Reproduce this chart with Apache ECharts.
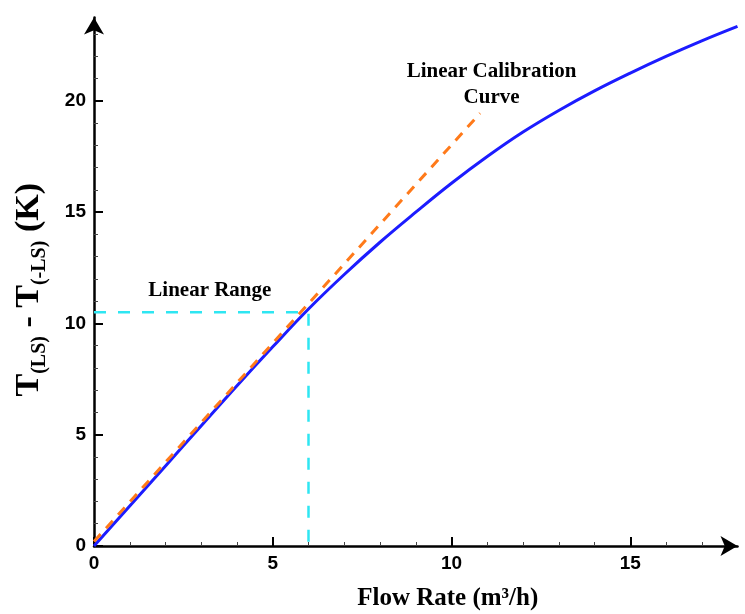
<!DOCTYPE html>
<html>
<head>
<meta charset="utf-8">
<script src="https://cdn.jsdelivr.net/npm/echarts@6/dist/echarts.min.js"></script>
<style>html,body{margin:0;padding:0;background:#fff;}#c{width:745px;height:614px;}</style>
</head>
<body>
<div id="c"></div>
<script>
// ---- data ----
const measuredX = [0, 1, 2, 3, 4, 5, 6, 7, 8, 9, 10, 11, 12, 13, 14, 15, 16, 17, 18];
const measuredY = [0, 1.8, 3.6, 5.4, 7.2, 8.95, 10.65, 12.2, 13.65, 15.0, 16.3, 17.5, 18.6, 19.57, 20.45, 21.25, 22.0, 22.7, 23.35];
const calibX = [0, 10.8];
const calibY = [0.2, 19.45];
const rangeX = [0, 6, 6];
const rangeY = [10.5, 10.5, 0];
const noteX = [3.24, 11.12];
const noteY = [11.46, 20.72];
const noteText = ['Linear Range', 'Linear Calibration\nCurve'];
const xMajor = [0, 5, 10, 15];
const yMajor = [0, 5, 10, 15, 20];
const xMinor = [1, 2, 3, 4, 6, 7, 8, 9, 11, 12, 13, 14, 16, 17];
const yMinor = [1, 2, 3, 4, 6, 7, 8, 9, 11, 12, 13, 14, 16, 17, 18, 19, 21, 22, 23];
const xMax = 18, yMax = 23.75;

const zip = (a, b) => a.map((v, i) => [v, b[i]]);
const serif = 'Liberation Serif';
const sans = 'Liberation Sans';

const chart = echarts.init(document.getElementById('c'), null, {renderer: 'canvas'});
const gridRect = {left: 94, right: 7.5, top: 17.5, bottom: 68, containLabel: false, outerBoundsMode: 'none'};
const tickLabel = {fontFamily: sans, fontWeight: 'bold', fontSize: 19, color: '#000', margin: 8};

chart.setOption({
  backgroundColor: '#fff',
  animation: false,
  grid: [Object.assign({}, gridRect), Object.assign({}, gridRect)],
  xAxis: [{
    gridIndex: 0, type: 'value', min: 0, max: xMax,
    name: 'Flow Rate (m³/h)', nameLocation: 'middle', nameGap: 40,
    nameTextStyle: {fontFamily: serif, fontWeight: 'bold', fontSize: 25, color: '#000', padding: [0, 0, 0, 64]},
    axisLine: {show: true, onZero: false, symbol: ['none', 'arrow'], symbolSize: [15, 17], lineStyle: {color: '#000', width: 2.5}},
    axisTick: {show: true, inside: true, length: 9, customValues: xMajor, lineStyle: {color: '#000', width: 2}},
    axisLabel: Object.assign({customValues: xMajor}, tickLabel),
    splitLine: {show: false}
  }, {
    gridIndex: 1, type: 'value', min: 0, max: xMax,
    axisLine: {show: false},
    axisTick: {show: true, inside: true, length: 4, customValues: xMinor, lineStyle: {color: '#444', width: 1}},
    axisLabel: {show: false}, splitLine: {show: false}
  }],
  yAxis: [{
    gridIndex: 0, type: 'value', min: 0, max: yMax,
    name: '{b|T}{s|(LS)}{b| - T}{s|(-LS)}{b| (K)}', nameLocation: 'middle', nameGap: 44, nameRotate: 90,
    nameTextStyle: {
      padding: [0, 16, 0, 0],
      rich: {
        b: {fontFamily: serif, fontWeight: 'bold', fontSize: 34, color: '#000', lineHeight: 42},
        s: {fontFamily: serif, fontWeight: 'bold', fontSize: 20, color: '#000', lineHeight: 22, verticalAlign: 'bottom'}
      }
    },
    axisLine: {show: true, onZero: false, symbol: ['none', 'arrow'], symbolSize: [15, 17], lineStyle: {color: '#000', width: 2.5}},
    axisTick: {show: true, inside: true, length: 9, customValues: yMajor, lineStyle: {color: '#000', width: 2}},
    axisLabel: Object.assign({customValues: yMajor}, tickLabel),
    splitLine: {show: false}
  }, {
    gridIndex: 1, type: 'value', min: 0, max: yMax,
    axisLine: {show: false},
    axisTick: {show: true, inside: true, length: 4, customValues: yMinor, lineStyle: {color: '#444', width: 1}},
    axisLabel: {show: false}, splitLine: {show: false}
  }],
  series: [{
    type: 'line', xAxisIndex: 0, yAxisIndex: 0, data: zip(rangeX, rangeY), symbol: 'none',
    lineStyle: {color: '#2ee6f2', width: 2.5, type: [12, 12]}, z: 2
  }, {
    type: 'line', xAxisIndex: 0, yAxisIndex: 0, data: zip(measuredX, measuredY), symbol: 'none', smooth: 0.4,
    lineStyle: {color: '#1c1cff', width: 3}, z: 3
  }, {
    type: 'line', xAxisIndex: 0, yAxisIndex: 0, data: zip(calibX, calibY), symbol: 'none',
    lineStyle: {color: '#ff7a1a', width: 3, type: [10, 8]}, z: 4
  }, {
    type: 'scatter', xAxisIndex: 0, yAxisIndex: 0, symbolSize: 0, silent: true,
    itemStyle: {opacity: 1},
    data: noteX.map((x, i) => ({value: [x, noteY[i]], name: noteText[i]})),
    label: {show: true, position: 'inside', formatter: p => p.name, fontFamily: serif, fontWeight: 'bold', opacity: 1,
      fontSize: 21, lineHeight: 26, color: '#000', align: 'center', textBorderWidth: 0, textBorderColor: 'transparent'},
    z: 5
  }]
});
</script>
</body>
</html>
